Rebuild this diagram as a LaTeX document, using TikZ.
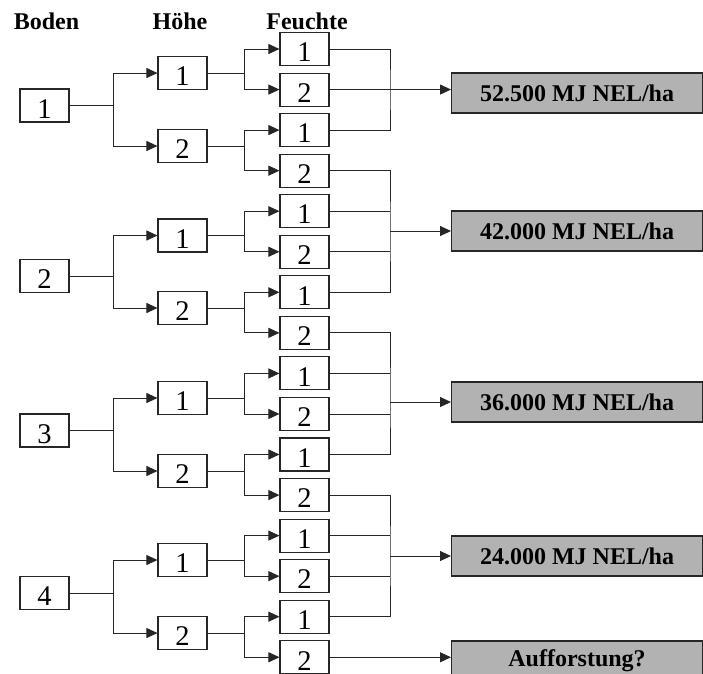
\documentclass[tikz,border=0pt]{standalone}
\usepackage{fontspec}
\setmainfont{Liberation Serif}
\usetikzlibrary{arrows.meta}

\begin{document}
\begin{tikzpicture}[
  x=1pt, y=-1pt,
  wire/.style={draw=black!85, line width=0.9pt},
  feed/.style={wire, -{Triangle[length=11pt,width=10pt]}},
  level/.style={draw=black!85, line width=1.1pt, fill=white, minimum width=49pt, minimum height=33pt, inner sep=0pt, font=\fontsize{28.5}{28.5}\selectfont, text height=25.5pt, text depth=0pt},
  head/.style={anchor=base, font=\fontsize{24}{24}\selectfont\bfseries},
  result/.style={draw=black!85, line width=1.1pt, fill=black!30, minimum width=251pt, minimum height=40pt, inner sep=0pt, anchor=west, font=\fontsize{24}{24}\selectfont\bfseries}
]
\useasboundingbox (0,0) rectangle (703,673);

% column heads
\node[head] (boden) at (46.5,29.3) {Boden};
\node[head] (hoehe) at (180,29.3) {Höhe};
\node[head] (feuchte) at (307,29.3) {Feuchte};

% tree: Boden -> Höhe -> Feuchte
\foreach \b/\yb/\ya/\yc in {1/105.5/73/146, 2/276/235.5/308, 3/430.5/398/471, 4/593/560/633} {
  \node[level] (b\b) at (44.5,\yb) {\b};
  \coordinate (fb\b) at (113,\yb);
  \foreach \h/\yh in {1/\ya, 2/\yc} {
    \node[level] (h\b\h) at (182.5,\yh) {\h};
    \draw[feed] (b\b.east) -- (fb\b) |- (h\b\h.west);
    \coordinate (fh\b\h) at (244,\yh);
    \foreach \f in {1,2} {
      \pgfmathtruncatemacro{\k}{4*(\b-1)+2*(\h-1)+\f}
      \node[level] (f\k) at (304.5,{49+40.55*(\k-1)}) {\f};
      \draw[feed] (h\b\h.east) -- (fh\b\h) |- (f\k.west);
    }
  }
}

% results
\node[result] (r1) at (451,93) {52.500 MJ NEL/ha};
\node[result] (r2) at (451,231) {42.000 MJ NEL/ha};
\node[result] (r3) at (451,402) {36.000 MJ NEL/ha};
\node[result] (r4) at (451,556) {24.000 MJ NEL/ha};
\node[result] (r5) at (451,661) {Aufforstung?};

% merging Feuchte into results
\coordinate (m1) at (390,89.55);
\coordinate (m2) at (390,231);
\coordinate (m3) at (390,402);
\coordinate (m4) at (390,556);
\draw[wire] (f1.east) -| (m1) |- (f3.east);
\draw[wire] (f2.east) -- (m1);
\draw[wire] (f4.east) -| (m2) |- (f7.east);
\draw[wire] (f5.east) -- (f5.east -| m2);
\draw[wire] (f6.east) -- (f6.east -| m2);
\draw[wire] (f8.east) -| (m3) |- (f11.east);
\draw[wire] (f9.east) -- (f9.east -| m3);
\draw[wire] (f10.east) -- (f10.east -| m3);
\draw[wire] (f12.east) -| (m4) |- (f15.east);
\draw[wire] (f13.east) -- (f13.east -| m4);
\draw[wire] (f14.east) -- (f14.east -| m4);
\draw[feed] (m1) -- (m1 -| r1.west);
\draw[feed] (m2) -- (m2 -| r2.west);
\draw[feed] (m3) -- (m3 -| r3.west);
\draw[feed] (m4) -- (m4 -| r4.west);
\draw[feed] (f16.east) -- (f16.east -| r5.west);
\end{tikzpicture}
\end{document}
